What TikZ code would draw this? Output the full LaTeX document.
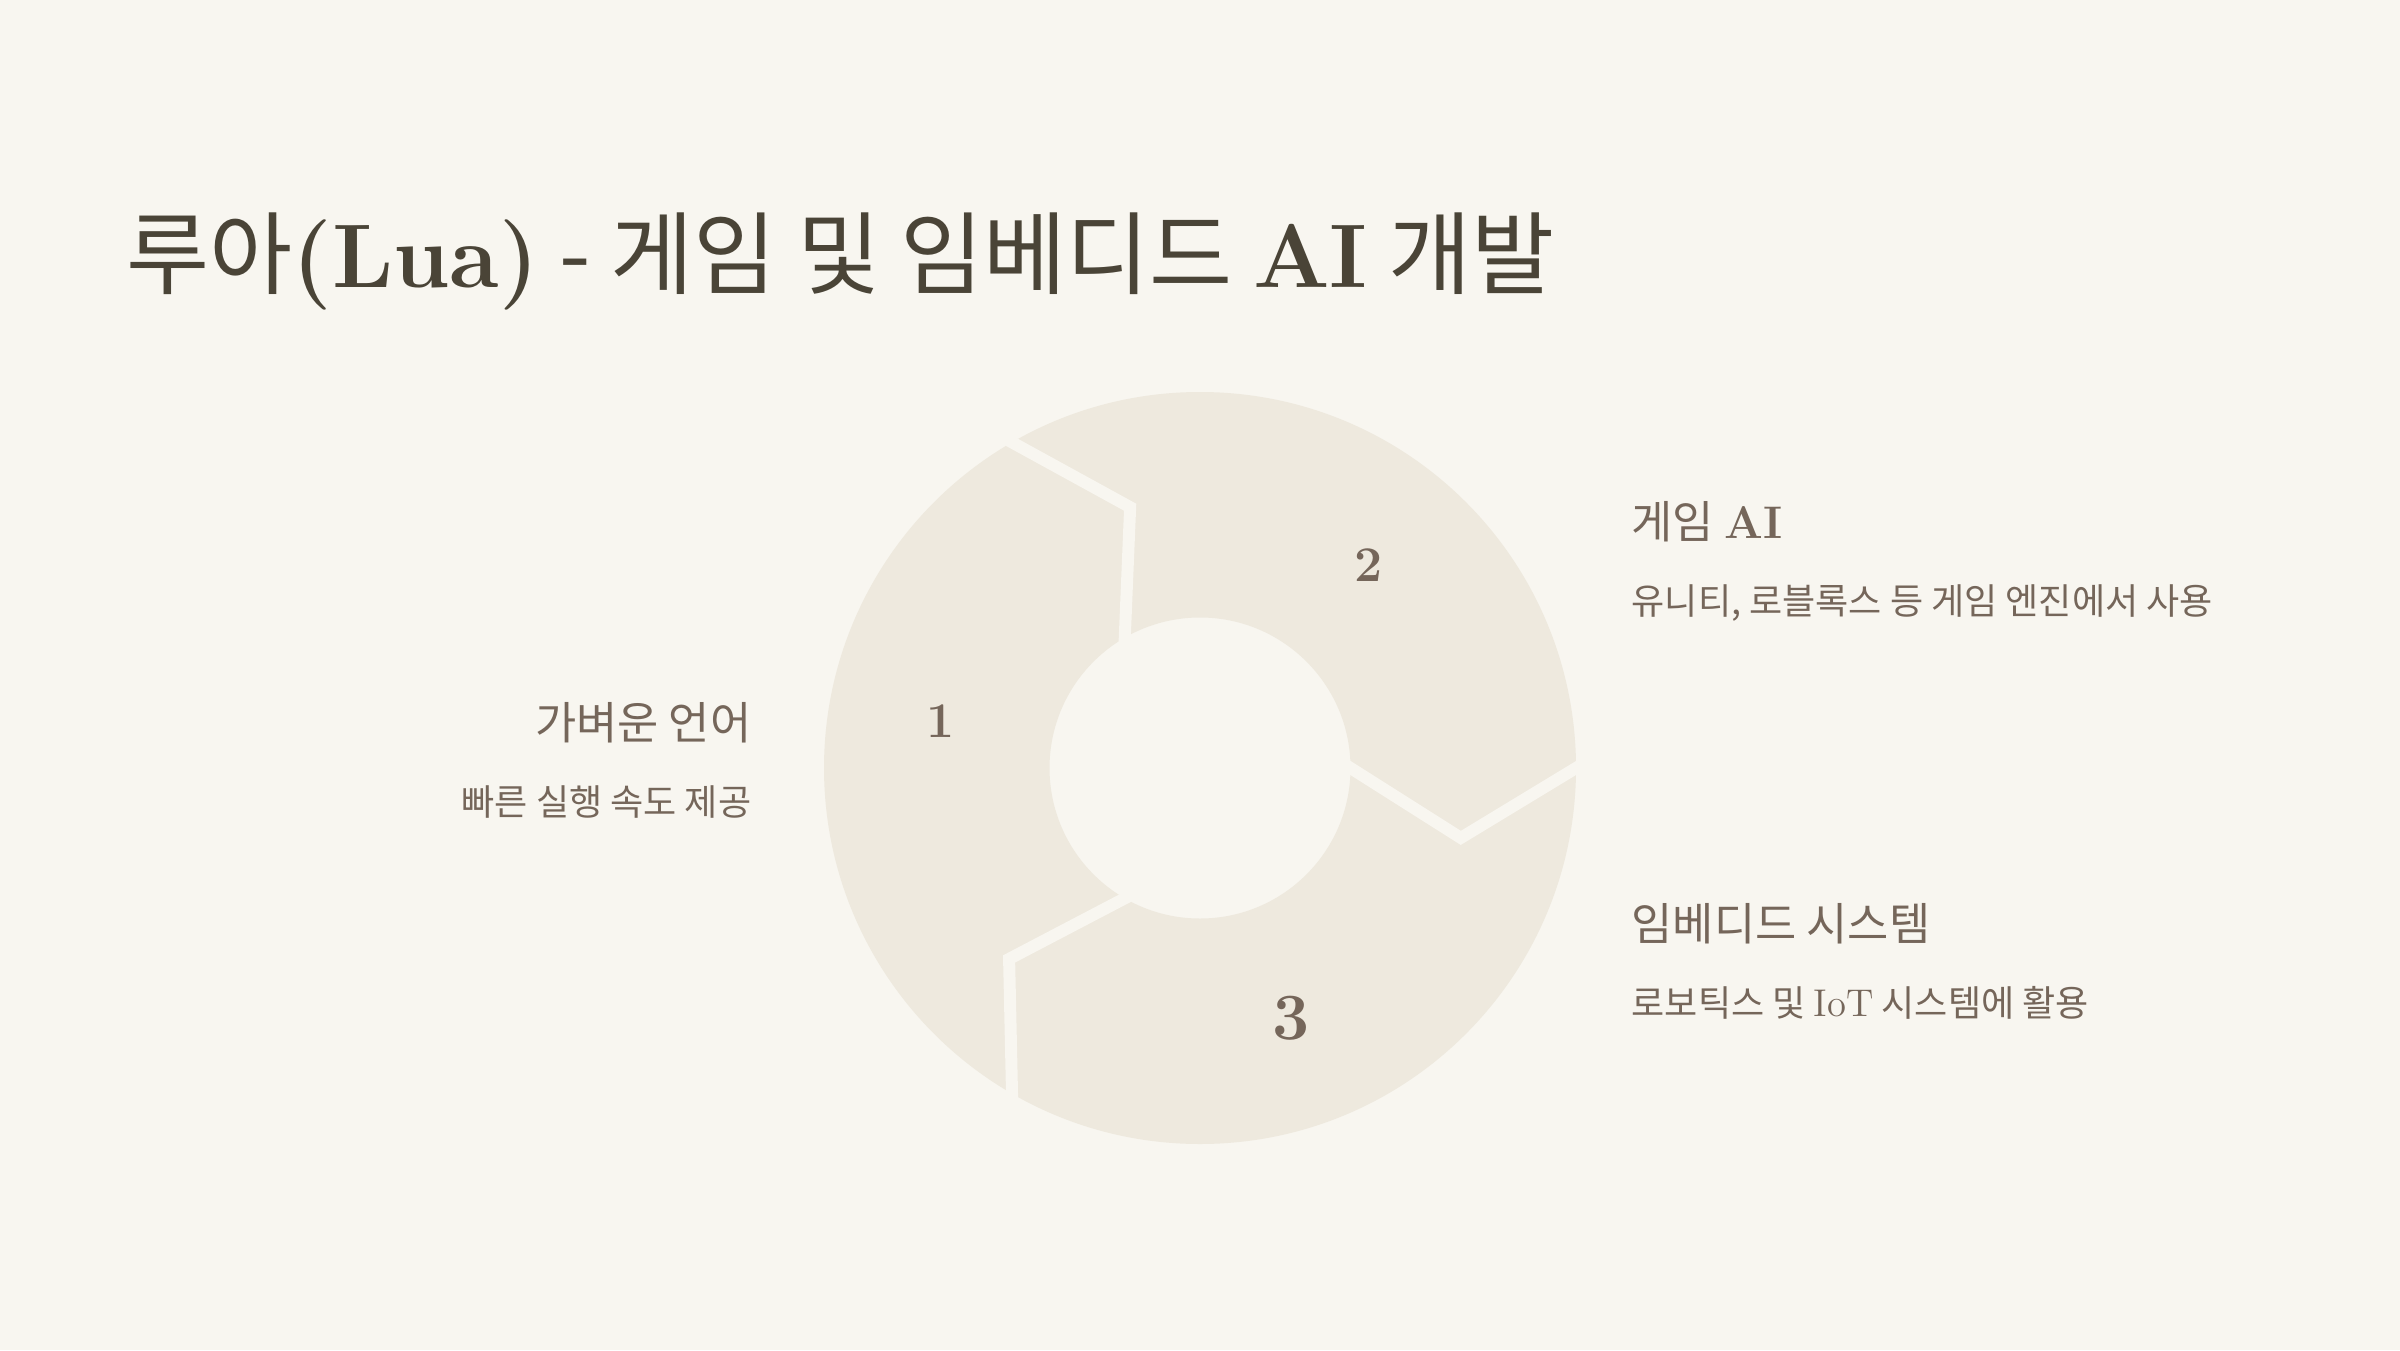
\documentclass[tikz,border=0pt]{standalone}
\usepackage{fontspec}
\newfontfamily\kr{Noto Sans CJK KR}
\usetikzlibrary{calc}
\definecolor{bgc}{HTML}{F8F6F0}
\definecolor{ringc}{HTML}{EEE9DE}
\definecolor{titlec}{HTML}{4A4437}
\definecolor{textc}{HTML}{75665A}
\tikzset{
  titletext/.style={font=\fontsize{25.7}{30}\selectfont, text=titlec, inner sep=0},
  headtext/.style={font=\fontsize{12.75}{15}\selectfont, text=textc, inner sep=0},
  subtext/.style={font=\fontsize{10.26}{12}\selectfont, text=textc, inner sep=0},
  numtext/.style={text=textc, inner sep=0},
  gapline/.style={draw=bgc, line width=0.12cm, line join=miter},
}
\begin{document}
\begin{tikzpicture}
\fill[bgc] (0,0) rectangle (24,13.5);
\useasboundingbox (0,0) rectangle (24,13.5);
% title
\node[titletext, anchor=base west] (title) at (1.26,10.627)
  {{\kr 루아}\textbf{(Lua)}{\kr\ -\ 게임 및 임베디드\ }\textbf{AI}{\kr\ 개발}};
% donut
\coordinate (c) at (12,5.82);
\fill[ringc, even odd rule] (c) circle (3.76) (c) circle (1.505);
% boundary 1-2
\coordinate (oA) at ($(c)+(120:3.76)$);
\coordinate (nA) at ($(c)+(105:2.70)$);
\coordinate (iA) at ($(c)+(120:1.505)$);
\draw[gapline] ($(nA)!1.15!(oA)$) -- (nA) -- ($(nA)!1.25!(iA)$);
% boundary 2-3
\coordinate (oB) at ($(c)+(0:3.76)$);
\coordinate (nB) at ($(c)+(-15:2.70)$);
\coordinate (iB) at ($(c)+(0:1.505)$);
\draw[gapline] ($(nB)!1.15!(oB)$) -- (nB) -- ($(nB)!1.25!(iB)$);
% boundary 3-1
\coordinate (oC) at ($(c)+(240:3.76)$);
\coordinate (nC) at ($(c)+(225:2.70)$);
\coordinate (iC) at ($(c)+(240:1.505)$);
\draw[gapline] ($(nC)!1.15!(oC)$) -- (nC) -- ($(nC)!1.25!(iC)$);
% numbers
\node[numtext, font=\fontsize{14.2}{16}\selectfont\bfseries] (num1) at (9.408,6.29) {1};
\node[numtext, font=\fontsize{14.2}{16}\selectfont\bfseries] (num2) at (13.69,7.85) {2};
\node[numtext, font=\fontsize{18.8}{21}\selectfont\bfseries] (num3) at (12.91,3.32) {3};
% left labels
\node[headtext, anchor=base east] (h1) at (7.52,6.11) {\kr 가벼운 언어};
\node[subtext, anchor=base east] (s1) at (7.52,5.35) {\kr 빠른 실행 속도 제공};
% right labels
\node[headtext, anchor=base west] (h2) at (16.31,8.117) {{\kr 게임 }{\fontsize{13}{15}\selectfont\bfseries AI}};
\node[subtext, anchor=base west] (s2) at (16.31,7.36) {\kr 유니티, 로블록스 등 게임 엔진에서 사용};
\node[headtext, anchor=base west] (h3) at (16.31,4.10) {\kr 임베디드 시스템};
\node[subtext, anchor=base west] (s3) at (16.31,3.34) {{\kr 로보틱스 및 }{\fontsize{11}{12}\selectfont IoT}{\kr\ 시스템에 활용}};
\end{tikzpicture}
\end{document}
